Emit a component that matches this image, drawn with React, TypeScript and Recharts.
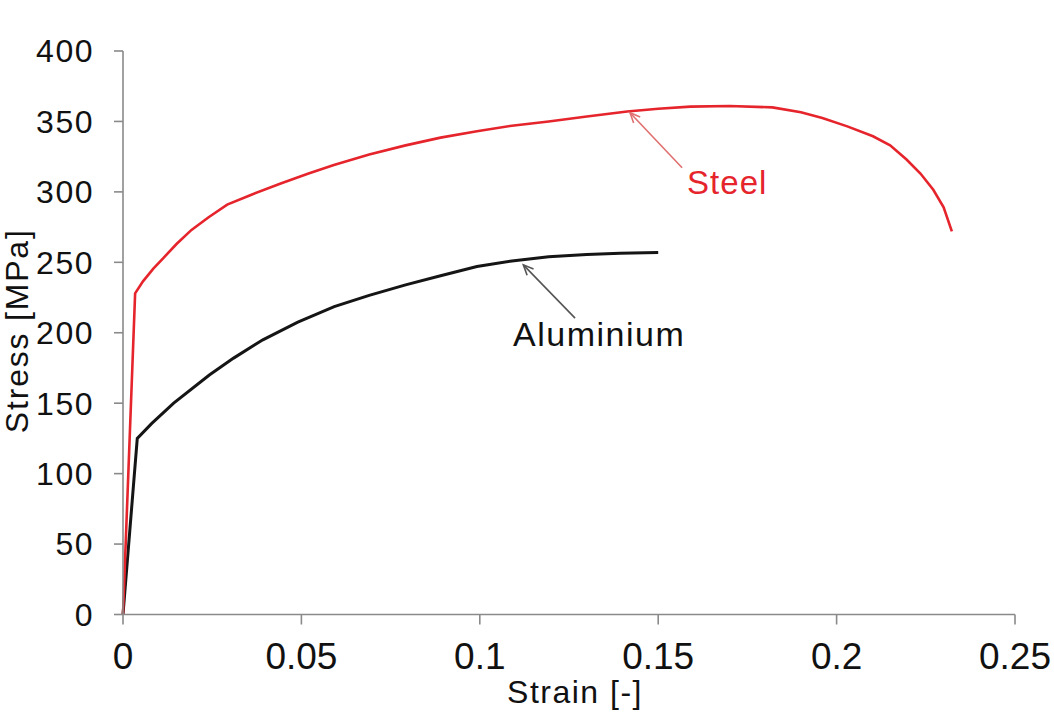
import React from 'react';
import { LineChart, Line, XAxis, YAxis, ReferenceLine } from 'recharts';

const FONT = '"Liberation Sans", Arial, Helvetica, sans-serif';

const steelStrain = [
  0, 0.0034, 0.0056, 0.0085, 0.0113, 0.015, 0.0192, 0.024, 0.0292, 0.036, 0.0442, 0.052, 0.0591,
  0.069, 0.0792, 0.089, 0.0992, 0.109, 0.1193, 0.13, 0.1413, 0.15, 0.159, 0.17, 0.182,
  0.19, 0.196, 0.203, 0.2102, 0.215, 0.2196, 0.2235, 0.2271, 0.23, 0.2323,
];
const steelStress = [
  0, 228, 236.5, 245.5, 253, 263, 273, 282, 291, 298, 306, 313, 319,
  326.5, 333, 338.5, 343, 347, 350, 353.5, 357, 359, 360.5, 361, 360,
  356.5, 352.5, 346.5, 339.5, 333, 323, 313, 301.5, 289, 272,
];

const aluminiumStrain = [
  0, 0.004, 0.008, 0.0142, 0.0242, 0.031, 0.0392, 0.049, 0.0592, 0.069, 0.0792, 0.089,
  0.0992, 0.109, 0.1193, 0.13, 0.1393, 0.15,
];
const aluminiumStress = [
  0, 125, 135.5, 150, 170, 182, 195, 207.5, 218.5, 226.5, 234, 240.5,
  247, 251, 254, 255.5, 256.5, 257,
];

const xTicks = [0, 0.05, 0.1, 0.15, 0.2, 0.25];
const yTicks = [0, 50, 100, 150, 200, 250, 300, 350, 400];

// annotation arrows: [tail, tip] in data units
const steelArrow = [
  { x: 0.1567, y: 317.1 },
  { x: 0.1421, y: 356.2 },
];
const aluminiumArrow = [
  { x: 0.1267, y: 210.4 },
  { x: 0.1122, y: 248.2 },
];

const steelData = steelStrain.map((x, i) => ({ x, y: steelStress[i] }));
const aluminiumData = aluminiumStrain.map((x, i) => ({ x, y: aluminiumStress[i] }));

const STEEL = '#e5242c';
const ALU = '#151515';
const AXIS = '#8a8a8a';

const makeArrow =
  (lineColor: string, label: string, textColor: string, dx: number, dy: number, fontSize: number, ls: number) =>
  (props: any) => {
    const { x1, y1, x2, y2 } = props;
    const ang = Math.atan2(y2 - y1, x2 - x1);
    const L = 11;
    const spread = 0.42;
    const ax = x2 - L * Math.cos(ang - spread);
    const ay = y2 - L * Math.sin(ang - spread);
    const bx = x2 - L * Math.cos(ang + spread);
    const by = y2 - L * Math.sin(ang + spread);
    return (
      <g>
        <line x1={x1} y1={y1} x2={x2} y2={y2} stroke={lineColor} strokeWidth={1.6} />
        <polyline
          points={`${ax},${ay} ${x2},${y2} ${bx},${by}`}
          fill="none"
          stroke={lineColor}
          strokeWidth={1.6}
        />
        <text
          x={x1 + dx}
          y={y1 + dy}
          fill={textColor}
          fontSize={fontSize}
          fontFamily={FONT}
          letterSpacing={ls}
          textAnchor="start"
        >
          {label}
        </text>
      </g>
    );
  };

const XLabel = (p: any) => {
  const vb = p.viewBox || { x: 123, y: 614.5, width: 892, height: 97.5 };
  return (
    <text
      x={vb.x + vb.width / 2 + 6}
      y={vb.y + vb.height - 9}
      textAnchor="middle"
      fontSize={32}
      fontFamily={FONT}
      letterSpacing={1.5}
      fill="#111"
    >
      Strain [-]
    </text>
  );
};

const YLabel = (p: any) => {
  const vb = p.viewBox || { x: 0, y: 51, width: 123, height: 563.5 };
  const cx = vb.x + 28;
  const cy = vb.y + vb.height / 2 - 2;
  return (
    <text
      x={cx}
      y={cy}
      transform={`rotate(-90, ${cx}, ${cy})`}
      textAnchor="middle"
      fontSize={32}
      fontFamily={FONT}
      letterSpacing={1.8}
      fill="#111"
    >
      Stress [MPa]
    </text>
  );
};

export default function App() {
  return (
    <div style={{ position: 'absolute', left: 0, top: 0, width: 1054, height: 712, background: '#fff' }}>
      <LineChart width={1054} height={712} margin={{ top: 51, right: 39, bottom: 0, left: 0 }}>
        <XAxis
          dataKey="x"
          type="number"
          domain={[0, 0.25]}
          ticks={xTicks}
          interval={0}
          height={97.5}
          tickSize={10}
          tickMargin={18}
          axisLine={{ stroke: AXIS, strokeWidth: 1.6 }}
          tickLine={{ stroke: AXIS, strokeWidth: 1.6 }}
          tick={{ fontSize: 37, fill: '#111', fontFamily: FONT }}
          label={<XLabel />}
        />
        <YAxis
          type="number"
          domain={[0, 400]}
          ticks={yTicks}
          interval={0}
          width={123}
          tickSize={9}
          tickMargin={20}
          axisLine={{ stroke: AXIS, strokeWidth: 1.6 }}
          tickLine={{ stroke: AXIS, strokeWidth: 1.6 }}
          tick={{ fontSize: 32, fill: '#111', fontFamily: FONT, letterSpacing: 1.5 }}
          label={<YLabel />}
        />
        <Line
          data={aluminiumData}
          dataKey="y"
          type="linear"
          stroke={ALU}
          strokeWidth={3}
          dot={false}
          activeDot={false}
          isAnimationActive={false}
        />
        <Line
          data={steelData}
          dataKey="y"
          type="linear"
          stroke={STEEL}
          strokeWidth={2.6}
          dot={false}
          activeDot={false}
          isAnimationActive={false}
        />
        <ReferenceLine
          segment={steelArrow}
          shape={makeArrow('#e07070', 'Steel', STEEL, 5, 26, 33, 1)}
        />
        <ReferenceLine
          segment={aluminiumArrow}
          shape={makeArrow('#555', 'Aluminium', '#111', -62, 28, 34, 1.5)}
        />
      </LineChart>
    </div>
  );
}
